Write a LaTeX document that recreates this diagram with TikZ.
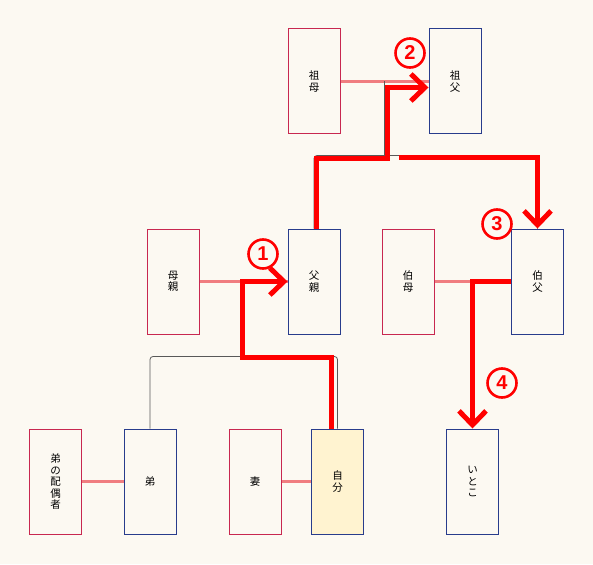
\documentclass[tikz,border=0pt]{standalone}
\usepackage{fontspec}
\usepackage{tikz}
\usetikzlibrary{calc}
\usetikzlibrary{arrows.meta}
\newfontfamily\jpfont{Noto Sans CJK JP}
\newfontfamily\numfont{Liberation Sans}
\definecolor{paper}{RGB}{252,249,242}
\definecolor{femred}{RGB}{200,40,80}
\definecolor{maleblue}{RGB}{40,60,140}
\definecolor{selfyellow}{RGB}{255,243,208}
\definecolor{wedpink}{RGB}{240,125,128}

\begin{document}
\begin{tikzpicture}[x=1pt,y=-1pt,
   person/.style={draw,line width=1pt,fill=paper,minimum width=52pt,minimum height=105pt,
      inner sep=0pt,align=center,font=\jpfont\fontsize{10.5}{11.5}\selectfont},
   female/.style={person,draw=femred},
   male/.style={person,draw=maleblue},
   self/.style={male,fill=selfyellow},
   marriage/.style={draw=wedpink,line width=3pt},
   kin/.style={draw=black!65,line width=0.8pt,rounded corners=3pt},
   route/.style={draw=red,line width=5pt,-{Straight Barb[length=14pt,width=27pt]}},
   num/.style={circle,draw=red,line width=2.6pt,minimum size=29pt,inner sep=0pt,
      text=red,font=\numfont\bfseries\fontsize{20}{20}\selectfont}]
\fill[paper] (0,0) rectangle (593,564);
\node[female] (sobo) at (314,81.5) {祖\\母};
\node[male] (sofu) at (455,81.5) {祖\\父};
\node[female] (haha) at (173,281.5) {母\\親};
\node[male] (chichi) at (314,281.5) {父\\親};
\node[female] (hakubo) at (408,281.5) {伯\\母};
\node[male] (hakufu) at (537.5,281.5) {伯\\父};
\node[female] (giri) at (55.5,481.5) {弟\\の\\配\\偶\\者};
\node[male] (otouto) at (150,481.5) {弟};
\node[female] (tsuma) at (255,481.5) {妻};
\node[self] (jibun) at (337.5,481.5) {自\\分};
\node[male] (itoko) at (472.5,481.5) {い\\と\\こ};

\draw[marriage] (sobo.east) -- (sofu.west);
\draw[marriage] (haha.east) -- (chichi.west);
\draw[marriage] (hakubo.east) -- (hakufu.west);
\draw[marriage] (giri.east) -- (otouto.west);
\draw[marriage] (tsuma.east) -- (jibun.west);

\coordinate (wed1) at ($(sobo.east)!.5!(sofu.west)$);
\coordinate (wed2) at ($(haha.east)!.5!(chichi.west)$);
\draw[kin] (chichi.north) -- ++(0,-73) -| (hakufu.north);
\draw[kin] (wed1) -- (wed1 |- 0,156);
\draw[kin] (otouto.north) -- ++(0,-72) -| (jibun.north);
\draw[kin] (wed2) -- (wed2 |- 0,357);

\coordinate (turn1) at (242,357);
\coordinate (turn2) at (387,158);
\coordinate (start3) at (399,157);
\draw[route] ([xshift=-6pt]jibun.north) |- (turn1) |- (chichi.west);
\draw[route] ([xshift=2pt]chichi.north) |- (turn2) |- ([yshift=-6pt]sofu.west);
\draw[route] (start3) -| (hakufu.north);
\draw[route] (hakufu.west) -| (itoko.north);

\node[num] (n1) at (263,254) {1};
\node[num] (n2) at (410,53) {2};
\node[num] (n3) at (497,224) {3};
\node[num] (n4) at (502,383) {4};
\end{tikzpicture}
\end{document}
